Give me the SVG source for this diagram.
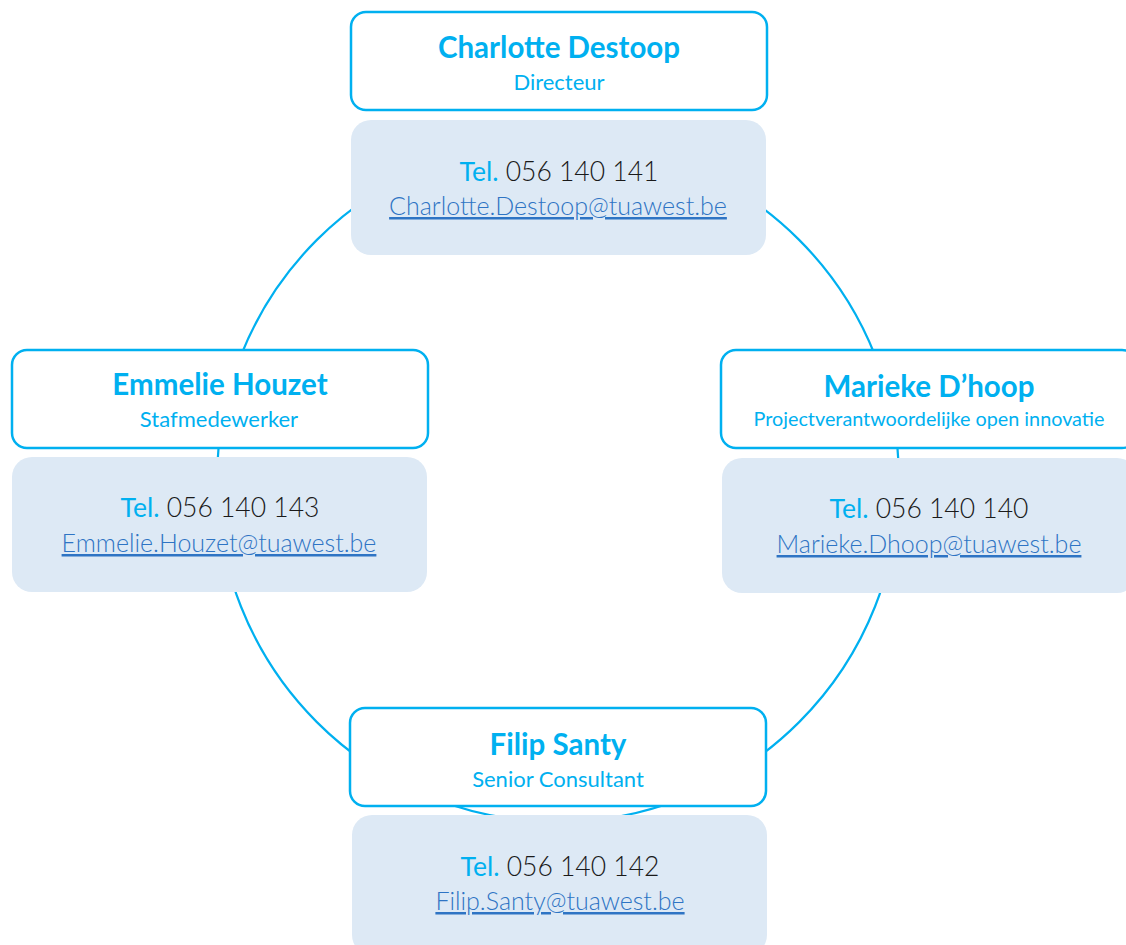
<svg xmlns="http://www.w3.org/2000/svg" width="1126" height="945" viewBox="0 0 1126 945">
<style>
.name{fill:#fff;stroke:#00b0f0;stroke-width:2.5}
.info{fill:#dde9f5;stroke:none}
.t1{font-family:Lato,"Noto Sans",sans-serif;font-weight:700;font-size:29.5px;fill:#00b0f0;text-anchor:middle}
.t2{font-family:Lato,"Noto Sans",sans-serif;font-size:22px;fill:#00b0f0;text-anchor:middle}
.t2s{font-family:Lato,"Noto Sans",sans-serif;font-size:19.8px;fill:#00b0f0;text-anchor:middle}
.tel{font-family:Lato,"Noto Sans",sans-serif;font-size:26.5px;fill:#1a1a1a;text-anchor:middle;font-weight:300}
.tl{fill:#00b0f0;font-weight:400}
.mail{font-family:Lato,"Noto Sans",sans-serif;font-size:25px;fill:#2e74c4;text-anchor:middle;font-weight:300;text-decoration:underline}
.ring{fill:none;stroke:#00b0f0;stroke-width:2.2}
</style>
<rect width="1126" height="945" fill="#fff"/>
<g id="connectors">
<circle class="ring" cx="558" cy="481" r="341"/>
</g>
<g id="charlotte">
<rect class="name" x="351" y="12" width="416" height="98" rx="15"/>
<text class="t1" x="559" y="58">Charlotte Destoop</text>
<text class="t2" x="559" y="90">Directeur</text>
<rect class="info" x="351" y="120" width="415" height="135" rx="20"/>
<text class="tel" x="559" y="181"><tspan class="tl">Tel.</tspan> 056 140 141</text>
<text class="mail" x="558" y="215">Charlotte.Destoop@tuawest.be</text>
</g>
<g id="emmelie">
<rect class="name" x="12" y="350" width="416" height="98" rx="15"/>
<text class="t1" x="220" y="395">Emmelie Houzet</text>
<text class="t2" x="219" y="427">Stafmedewerker</text>
<rect class="info" x="12" y="457" width="415" height="135" rx="20"/>
<text class="tel" x="220" y="517"><tspan class="tl">Tel.</tspan> 056 140 143</text>
<text class="mail" x="219" y="552">Emmelie.Houzet@tuawest.be</text>
</g>
<g id="marieke">
<rect class="name" x="721" y="350" width="416" height="98" rx="15"/>
<text class="t1" x="929" y="397">Marieke D’hoop</text>
<text class="t2s" x="929" y="426">Projectverantwoordelijke open innovatie</text>
<rect class="info" x="722" y="458" width="415" height="135" rx="20"/>
<text class="tel" x="929" y="518"><tspan class="tl">Tel.</tspan> 056 140 140</text>
<text class="mail" x="929" y="553">Marieke.Dhoop@tuawest.be</text>
</g>
<g id="filip">
<rect class="name" x="350" y="708" width="416" height="98" rx="15"/>
<text class="t1" x="558" y="755">Filip Santy</text>
<text class="t2" x="558" y="787">Senior Consultant</text>
<rect class="info" x="352" y="815" width="415" height="140" rx="20"/>
<text class="tel" x="560" y="876"><tspan class="tl">Tel.</tspan> 056 140 142</text>
<text class="mail" x="560" y="910">Filip.Santy@tuawest.be</text>
</g>
</svg>
